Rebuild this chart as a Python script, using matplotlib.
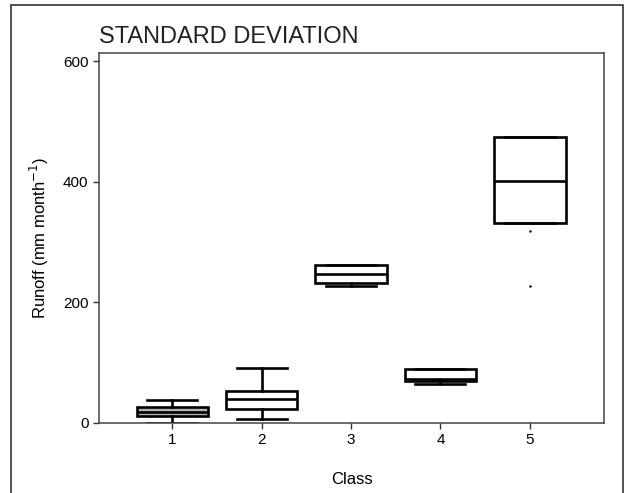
import matplotlib
matplotlib.use("Agg")
import matplotlib.pyplot as plt
from matplotlib.patches import Rectangle

plt.rcParams['font.family'] = ['Liberation Sans', 'DejaVu Sans']

classes = [1, 2, 3, 4, 5]
q1 = [12, 23, 233, 69, 332]
med = [19, 40, 248, 73, 402]
q3 = [26, 53, 263, 90, 475]
whislo = [0.5, 7, 227, 65, 332]
whishi = [38, 91, 263, 90, 475]
fliers = [[], [], [], [], [318, 228]]
box_colors = ['#b4b4b4', 'white', 'white', 'white', 'white']

stats = []
for i in range(len(classes)):
    stats.append(dict(label=str(classes[i]), q1=q1[i], med=med[i], q3=q3[i],
                      whislo=whislo[i], whishi=whishi[i], fliers=fliers[i]))

fig = plt.figure(figsize=(6.31, 4.93), dpi=100)
ax = fig.add_axes([99/631, 1 - 423/493, (604 - 99)/631, (423 - 53)/493])

lw = 1.9
bp = ax.bxp(stats, positions=classes, widths=0.8, patch_artist=True,
            capwidths=0.56,
            boxprops=dict(linewidth=lw, edgecolor='black'),
            medianprops=dict(linewidth=lw, color='black'),
            whiskerprops=dict(linewidth=lw, color='black'),
            capprops=dict(linewidth=lw, color='black'),
            flierprops=dict(marker='.', markersize=1.5, markerfacecolor='black',
                            markeredgecolor='black'))
for patch, c in zip(bp['boxes'], box_colors):
    patch.set_facecolor(c)

ax.set_xlim(0.18, 5.83)
ax.set_ylim(0, 614)
ax.set_yticks([0, 200, 400, 600])
ax.set_xticks(classes)
ax.set_xticklabels([str(c) for c in classes])
ax.tick_params(direction='out', length=4, width=1, colors='#333333', labelsize=11,
               labelcolor='black')
for s in ax.spines.values():
    s.set_color('#444444')
    s.set_linewidth(1.1)

ax.set_xlabel('Class', fontsize=12, labelpad=18)
ax.set_ylabel('Runoff (mm month$^{-1}$)', fontsize=12, labelpad=9)
fig.text(99/631, 1 - 43/493, 'STANDARD DEVIATION', fontsize=17, ha='left',
         va='baseline', color='#222222')

frame = Rectangle((11/631, -0.05), (623 - 11)/631, 1.05 - 5/493,
                  transform=fig.transFigure, fill=False, edgecolor='#333333',
                  linewidth=1.2, clip_on=False)
fig.patches.append(frame)

fig.savefig('out.png', dpi=100)
